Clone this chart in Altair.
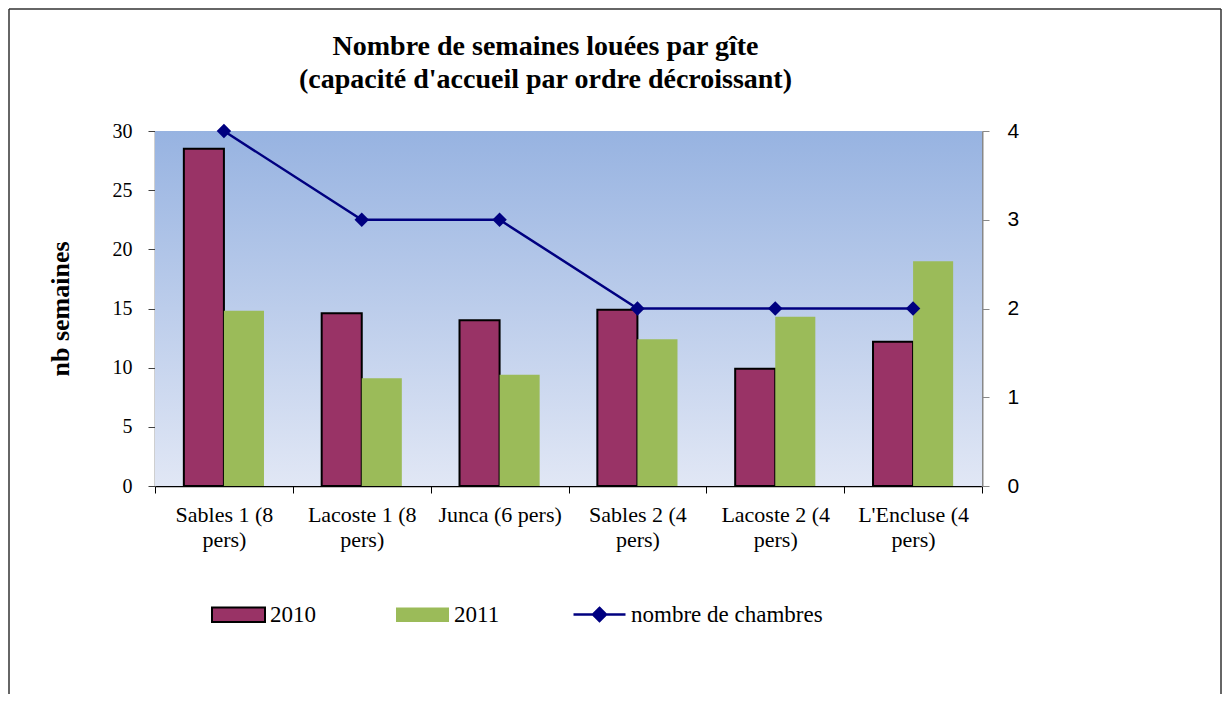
import json
import altair as alt
import pandas as pd

# ---- data ----
categories = ["Sables 1 (8 pers)", "Lacoste 1 (8 pers)", "Junca (6 pers)",
              "Sables 2 (4 pers)", "Lacoste 2 (4 pers)", "L'Encluse (4 pers)"]
label_lines = [["Sables 1 (8", "pers)"], ["Lacoste 1 (8", "pers)"], ["Junca (6 pers)"],
               ["Sables 2 (4", "pers)"], ["Lacoste 2 (4", "pers)"], ["L'Encluse (4", "pers)"]]
years = ["2010", "2011"]
weeks_2010 = [28.5, 14.6, 14.0, 14.9, 9.9, 12.2]
weeks_2011 = [14.8, 9.1, 9.4, 12.4, 14.3, 19.0]
rooms = [4, 3, 3, 2, 2, 2]
line_name = "nombre de chambres"
title_lines = ["Nombre de semaines louées par gîte", "(capacité d'accueil par ordre décroissant)"]
y_title = "nb semaines"

bars_df = pd.DataFrame(
    [{"gite": c, "year": "2010", "weeks": v} for c, v in zip(categories, weeks_2010)]
    + [{"gite": c, "year": "2011", "weeks": v} for c, v in zip(categories, weeks_2011)]
)
line_df = pd.DataFrame({"gite": categories, "rooms": rooms, "series": [line_name] * len(categories)})

# label expression for wrapped x labels
expr = "datum.label"
for cat, lines in reversed(list(zip(categories, label_lines))):
    arr = "[" + ",".join(json.dumps(l) for l in lines) + "]"
    expr = f"datum.label == {json.dumps(cat)} ? {arr} : ({expr})"

W, H = 827, 355
PAD_L, PAD_T = 147, 123
TOTAL_W, TOTAL_H = 1214, 686

SERIF = "Liberation Serif"
SANS = "Liberation Sans"

x_enc = alt.X("gite:N", sort=categories,
              scale=alt.Scale(paddingInner=0, paddingOuter=0),
              axis=alt.Axis(title=None, labelExpr=expr, labelAngle=0, labelFont=SERIF,
                            labelFontSize=22, labelColor="black", labelLineHeight=25,
                            labelPadding=11, tickBand="extent", tickSize=7, tickColor="black",
                            domainColor="black", domainWidth=1.5, labelLimit=200))

background = alt.Chart(alt.Data(values=[{}])).mark_rect(
    fill=alt.LinearGradient(gradient="linear",
                            stops=[alt.GradientStop(color="#97b3e1", offset=0),
                                   alt.GradientStop(color="#e1e7f5", offset=1)],
                            x1=0, x2=0, y1=0, y2=1)
).encode(x=alt.value(0), x2=alt.value(W), y=alt.value(0), y2=alt.value(H))

legend_common = dict(title=None, orient="none", legendX=56, legendY=456, direction="horizontal",
                     symbolType="M-1,-0.27L1,-0.27L1,0.27L-1,0.27Z", symbolSize=2809,
                     symbolStrokeWidth=2, labelFont=SERIF, labelFontSize=23, labelColor="black",
                     columnPadding=76, labelOffset=4, labelLimit=400)

bars = alt.Chart(bars_df).mark_bar(strokeWidth=2).encode(
    x=x_enc,
    xOffset=alt.XOffset("year:N", sort=years, scale=alt.Scale(paddingInner=0, paddingOuter=0.72)),
    y=alt.Y("weeks:Q", scale=alt.Scale(domain=[0, 30]),
            axis=alt.Axis(title=y_title, titleFont=SERIF, titleFontSize=26, titleFontWeight="bold",
                          titleColor="black", titlePadding=39, values=[0, 5, 10, 15, 20, 25, 30],
                          labelFont=SERIF, labelFontSize=20, labelColor="black", labelPadding=16,
                          tickSize=7, tickColor="#404040", domainColor="#404040", domainWidth=1.5,
                          grid=False)),
    fill=alt.Fill("year:N", scale=alt.Scale(domain=years, range=["#993366", "#9bbb59"]),
                  legend=alt.Legend(**legend_common)),
    stroke=alt.Stroke("year:N", scale=alt.Scale(domain=years, range=["#000000", "transparent"]),
                      legend=alt.Legend(**legend_common)),
)

line = alt.Chart(line_df).mark_line(
    strokeWidth=2.5,
    point=alt.OverlayMarkDef(shape="diamond", size=210, filled=True),
).encode(
    x=alt.X("gite:N", sort=categories),
    y=alt.Y("rooms:Q", scale=alt.Scale(domain=[0, 4]),
            axis=alt.Axis(orient="right", title=None, values=[0, 1, 2, 3, 4], format="d",
                          labelFont=SANS, labelFontSize=21, labelColor="black", labelPadding=18,
                          tickSize=7, tickColor="#888888", domainColor="#888888", domainWidth=2,
                          grid=False)),
    color=alt.Color("series:N", scale=alt.Scale(domain=[line_name], range=["#000080"]),
                    legend=alt.Legend(title=None, orient="none", legendX=417, legendY=456,
                                      symbolType="M-1,0L1,0M0,-0.25L0.25,0L0,0.25L-0.25,0Z",
                                      symbolSize=2704, symbolStrokeWidth=2.5,
                                      symbolFillColor="#000080", symbolStrokeColor="#000080",
                                      labelFont=SERIF, labelFontSize=23, labelColor="black",
                                      labelOffset=4, labelLimit=400)),
)

frame = alt.Chart(alt.Data(values=[{}])).mark_rule(color="#333333", strokeWidth=1.5)
frame_left = frame.encode(x=alt.value(-PAD_L + 1), y=alt.value(-PAD_T + 1), y2=alt.value(TOTAL_H - PAD_T))
frame_top = frame.encode(x=alt.value(-PAD_L + 1), x2=alt.value(TOTAL_W - PAD_L - 1), y=alt.value(-PAD_T + 1))
frame_right = frame.encode(x=alt.value(TOTAL_W - PAD_L - 1), y=alt.value(-PAD_T + 1), y2=alt.value(TOTAL_H - PAD_T))

chart = alt.layer(background, bars, line, frame_left, frame_top, frame_right).resolve_scale(
    y="independent"
).properties(
    width=W, height=H,
    title=alt.TitleParams(text=title_lines, font=SERIF, fontSize=28, fontWeight="bold",
                          color="black", lineHeight=33, anchor="middle", dx=-23, offset=-86),
    autosize=alt.AutoSizeParams(type="none"),
    padding={"left": PAD_L, "top": PAD_T, "right": TOTAL_W - PAD_L - W, "bottom": TOTAL_H - PAD_T - H},
).configure_view(stroke="#999999", strokeWidth=2).configure(background="white")

chart.save("out.html", embed_options={"renderer": "svg", "actions": False})
